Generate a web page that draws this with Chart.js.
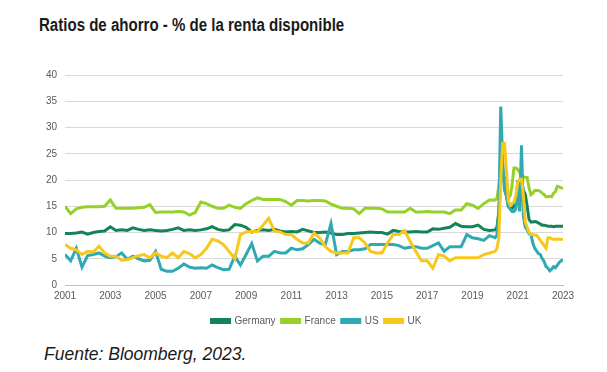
<!DOCTYPE html>
<html>
<head>
<meta charset="utf-8">
<script src="https://cdn.jsdelivr.net/npm/chart.js@4.4.1/dist/chart.umd.min.js"></script>
<style>
  html, body { margin: 0; padding: 0; background: #ffffff; }
  body { width: 607px; height: 372px; position: relative; overflow: hidden; font-family: "Liberation Sans", Arial, sans-serif; }
  #title { position: absolute; left: 39px; top: 15px; font-size: 17.5px; font-weight: bold; color: #1a1a1a; white-space: nowrap; transform: scaleX(0.86); transform-origin: 0 0; line-height: 20px; }
  #source { position: absolute; left: 44px; top: 344px; font-size: 17.5px; font-style: italic; color: #1a1a1a; white-space: nowrap; line-height: 20px; }
  #wrap { position: absolute; left: 0; top: 61px; width: 607px; height: 275px; }
</style>
</head>
<body>
<div id="title">Ratios de ahorro - % de la renta disponible</div>
<div id="wrap"><canvas id="c"></canvas></div>
<div id="source">Fuente: Bloomberg, 2023.</div>
<script>
// x positions: quarterly 2001.00 - 2019.75, then monthly 2020.00 - 2023.00
const quarterlyYears = [];
for (let y = 2001; y <= 2019; y++) { for (let q = 0; q < 4; q++) quarterlyYears.push(y + q / 4); }
const monthlyYears = [];
for (let m = 0; m <= 36; m++) monthlyYears.push(2020 + m / 12);
const dates = quarterlyYears.concat(monthlyYears);

const xTicks = [2001, 2003, 2005, 2007, 2009, 2011, 2013, 2015, 2017, 2019, 2021, 2023];
const yTicks = [0, 5, 10, 15, 20, 25, 30, 35, 40];
const seriesNames = ["Germany", "France", "US", "UK"];

const germany = [
  9.8, 9.8, 9.9, 10.1,   9.7, 10.0, 10.2, 10.3,   11.1, 10.4, 10.5, 10.4,   10.9, 10.6, 10.4, 10.5,
  10.4, 10.3, 10.4, 10.6,   10.9, 10.4, 10.5, 10.4,   10.5, 10.7, 11.1, 10.6,   10.4, 10.5, 11.5, 11.4,
  11.0, 10.1, 10.4, 10.5,   10.4, 10.6, 10.3, 10.1,   10.2, 10.1, 10.6, 10.3,   10.0, 10.0, 10.1, 9.9,
  9.6, 9.6, 9.8, 9.8,   9.9, 10.0, 10.1, 10.0,   10.0, 9.7, 10.4, 10.2,   10.1, 10.1, 10.2, 10.1,
  10.1, 10.7, 10.6, 10.8,   11.0, 11.7, 11.2, 11.1,   11.1, 11.4, 10.6, 10.4,
  10.5, 11.0, 14.0, 20.0, 21.0, 20.5, 17.0, 15.0, 14.5, 14.6, 15.0, 16.0,
  18.0, 19.5, 20.0, 18.0, 17.3, 15.0, 12.5, 12.0, 12.0, 12.1, 12.0, 11.8,
  11.6, 11.4, 11.4, 11.3, 11.2, 11.2, 11.2, 11.1, 11.2, 11.2, 11.2, 11.2,
  11.2
];
const france = [
  15.0, 13.6, 14.5, 14.8,   14.9, 14.9, 14.9, 15.0,   16.2, 14.6, 14.6, 14.6,   14.6, 14.7, 14.8, 15.3,
  13.8, 13.9, 13.9, 13.9,   14.0, 13.9, 13.3, 13.8,   15.8, 15.5, 15.0, 14.6,   14.6, 15.2, 14.8, 14.6,
  15.5, 16.1, 16.6, 16.3,   16.3, 16.3, 16.3, 15.9,   15.2, 16.1, 16.1, 16.0,   16.1, 16.1, 16.0, 15.4,
  15.0, 14.6, 14.6, 14.5,   13.6, 14.6, 14.6, 14.6,   14.5, 13.9, 13.9, 13.9,   13.9, 14.6, 13.9, 13.9,
  14.0, 13.9, 13.9, 13.9,   13.6, 14.3, 14.3, 15.5,   15.2, 14.6, 15.5, 16.2,
  16.2, 16.5, 19.0, 23.0, 22.0, 19.0, 17.0, 16.5, 17.0, 19.0, 22.3, 22.3,
  22.0, 21.5, 20.6, 20.6, 20.5, 20.5, 18.5, 17.2, 17.5, 18.0, 18.0, 18.0,
  17.8, 17.5, 17.2, 16.8, 16.8, 16.9, 16.8, 17.5, 17.8, 18.8, 18.7, 18.5,
  18.4
];
const us = [
  5.8, 4.6, 7.0, 3.4,   5.6, 5.8, 6.1, 5.5,   5.2, 5.4, 6.1, 4.9,   5.5, 5.0, 4.6, 4.7,
  6.4, 3.0, 2.6, 2.6,   3.2, 4.0, 3.4, 3.2,   3.3, 3.2, 3.8, 3.3,   2.9, 3.0, 5.5, 3.8,
  5.8, 7.9, 4.6, 5.5,   5.5, 6.4, 6.1, 6.1,   7.0, 6.7, 6.9, 7.7,   8.7, 8.0, 7.7, 11.7,
  5.8, 6.4, 6.4, 6.7,   6.7, 6.9, 7.7, 7.7,   7.7, 7.7, 7.7, 7.5,   7.0, 7.2, 7.3, 7.0,
  7.0, 7.5, 8.0, 6.4,   7.3, 7.3, 7.3, 9.6,   9.0, 8.8, 8.5, 9.4,
  9.0, 9.5, 14.0, 34.0, 24.0, 18.0, 17.0, 15.0, 14.5, 14.0, 14.0, 14.5,
  20.0, 14.0, 26.6, 13.0, 11.0, 10.5, 9.8, 9.6, 8.0, 7.0, 6.5, 6.0,
  5.8, 5.0, 4.5, 3.5, 3.2, 2.7, 3.0, 3.5, 3.3, 3.8, 4.3, 4.6,
  4.8
];
const uk = [
  7.7, 7.0, 6.7, 5.8,   6.4, 6.3, 7.4, 6.1,   5.5, 5.5, 4.7, 4.8,   5.2, 5.6, 5.8, 5.2,
  6.1, 5.5, 5.2, 6.1,   5.2, 6.4, 6.0, 5.2,   5.8, 7.0, 8.7, 8.4,   7.7, 6.4, 5.0, 9.6,
  10.1, 10.2, 10.2, 11.4,   12.7, 10.3, 10.1, 9.6,   9.6, 8.7, 8.0, 8.0,   9.9, 9.0, 7.3, 6.4,
  6.1, 6.1, 6.1, 9.0,   9.0, 8.0, 6.4, 6.1,   6.1, 8.0, 9.6, 9.6,   10.4, 8.3, 6.4, 4.6,
  4.6, 3.2, 5.8, 5.5,   4.6, 5.2, 5.2, 5.2,   5.2, 5.2, 5.8, 6.1,
  6.4, 7.0, 9.0, 20.0, 27.0, 27.0, 22.0, 16.0, 15.2, 15.5, 15.8, 17.0,
  19.5, 20.2, 20.2, 17.0, 12.1, 11.0, 10.0, 9.6, 9.6, 9.5, 9.5, 9.0,
  8.5, 8.0, 7.5, 7.0, 9.0, 9.0, 8.8, 8.7, 8.7, 8.7, 8.7, 8.7,
  8.7
];

const colors = ["#13845a", "#96d12a", "#2fa9b3", "#f7c81a"];
const seriesValues = [germany, france, us, uk];

const datasets = seriesNames.map((name, i) => ({
  label: name,
  data: dates.map((d, k) => ({ x: d, y: seriesValues[i][k] })),
  borderColor: colors[i],
  backgroundColor: colors[i],
  borderWidth: 3,
  pointRadius: 0,
  tension: 0,
  fill: false,
  order: 4 - i
}));

const font = { family: "'Liberation Sans', Arial, sans-serif", size: 10 };

// shift the centred legend so that it sits under the middle of the plot area
const legendShift = {
  id: 'legendShift',
  afterLayout(chart) {
    const l = chart.legend;
    if (l) { l.left += 35; l.right += 35; }
  }
};

new Chart(document.getElementById('c'), {
  type: 'line',
  data: { datasets },
  plugins: [legendShift],
  options: {
    responsive: true,
    maintainAspectRatio: false,
    animation: false,
    layout: { padding: { left: 0, right: 44, top: 5.5, bottom: 0 } },
    plugins: {
      legend: {
        position: 'bottom',
        labels: {
          color: '#595959',
          font: font,
          boxWidth: 18,
          boxHeight: 3,
          padding: 6,
          sort: (a, b) => a.datasetIndex - b.datasetIndex
        }
      },
      tooltip: { enabled: false }
    },
    scales: {
      x: {
        type: 'linear',
        min: 2001,
        max: 2023,
        afterBuildTicks: (s) => { s.ticks = xTicks.map(v => ({ value: v })); },
        afterFit: (s) => { s.height += 3; },
        ticks: { color: '#595959', font: font, padding: 5, maxRotation: 0, autoSkip: false, callback: v => String(v) },
        grid: { display: false, drawTicks: false },
        border: { display: true, color: '#bfbfbf', width: 1 }
      },
      y: {
        min: 0,
        max: 40,
        afterBuildTicks: (s) => { s.ticks = yTicks.map(v => ({ value: v })); },
        afterFit: (s) => { s.width = 65; },
        ticks: { color: '#595959', font: font, padding: 8 },
        grid: { color: '#d9d9d9', drawTicks: false, lineWidth: 1 },
        border: { display: false }
      }
    }
  }
});
</script>
</body>
</html>
